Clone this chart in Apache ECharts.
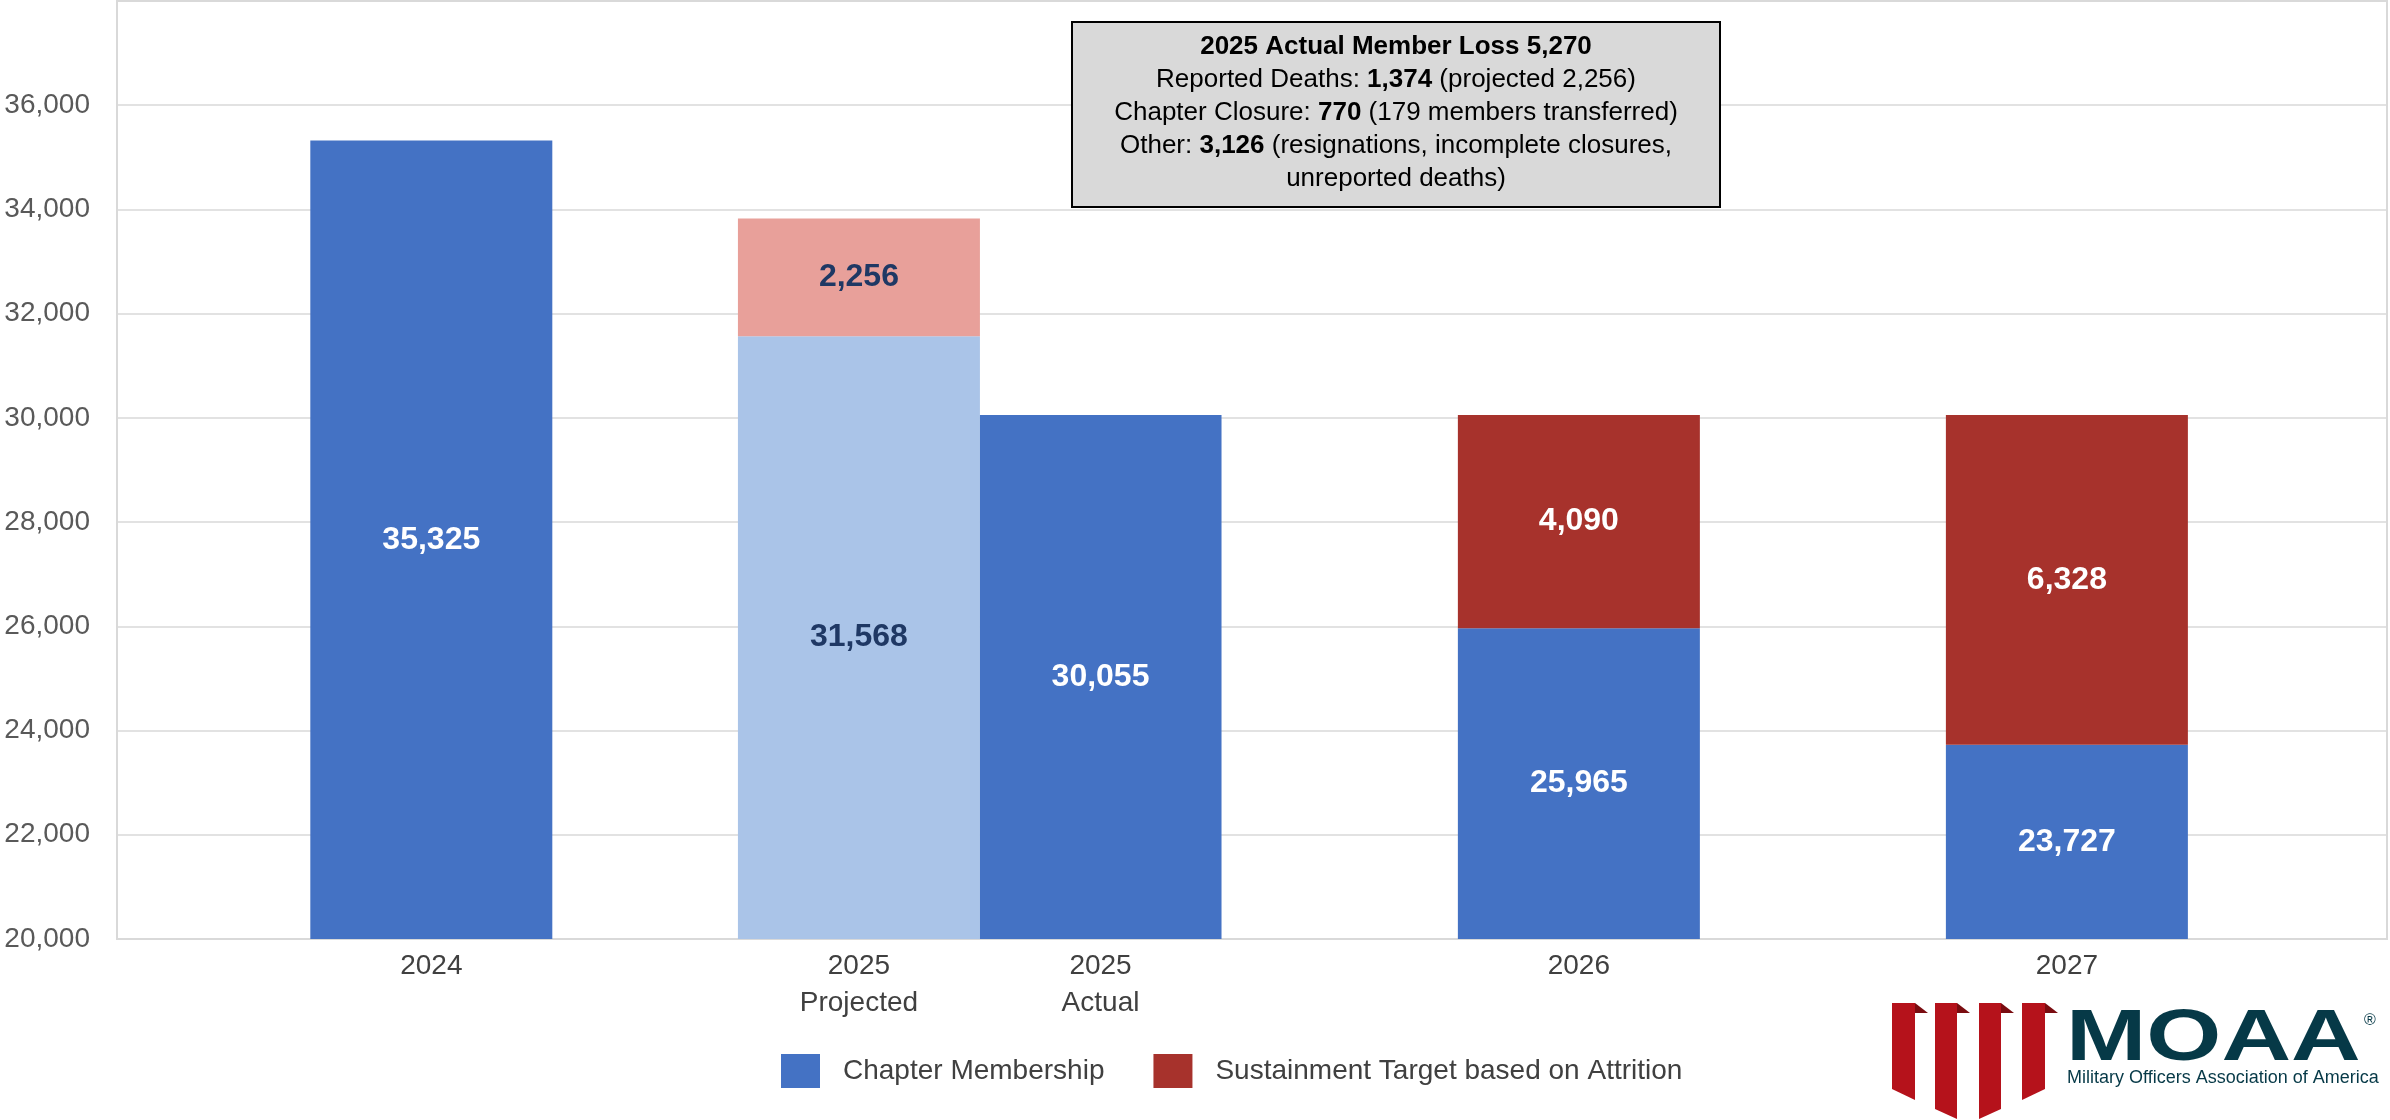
<!DOCTYPE html>
<html><head><meta charset="utf-8">
<script src="https://cdn.jsdelivr.net/npm/echarts@6/dist/echarts.min.js"></script>
<style>html,body{margin:0;padding:0;background:#fff}#chart{width:2390px;height:1120px}</style>
</head><body><div id="chart"></div>
<script>
// ---------- data ----------
const categories = ['2024', '2025\nProjected', '2025\nActual', '2026', '2027'];
const chapterMembership   = [35325, null, 30055, 25965, 23727];
const projectedMembership = [null, 31568, null, null, null];
const projectedDeaths     = [null, 2256, null, null, null];
const sustainmentTarget   = [null, null, null, 4090, 6328];
const yMin = 20000, yMax = 38000, yStep = 2000;
const legendNames = ['Chapter Membership', 'Sustainment Target based on Attrition'];

// ---------- layout (category slots on the x scale, in bar-width units) ----------
const slots = [1.23, 3, 4, 5.98, 8];
const xMin = -0.071, xMax = 9.325;

const FONT = "'Liberation Sans', Arial, sans-serif";
const fmt = v => Number(v).toLocaleString('en-US');
// value first so that the stack is computed on the y dimension
const pairs = arr => arr.map((v, i) => [v == null ? '-' : v, slots[i]]);

function barSeries(name, arr, color, labelColor) {
  return {
    name, type: 'bar', stack: 'total', barWidth: 242,
    encode: { x: 1, y: 0 },
    data: pairs(arr),
    itemStyle: { color },
    label: { show: true, position: 'inside', fontSize: 32, fontWeight: 'bold', fontFamily: FONT,
             color: labelColor, formatter: p => fmt(p.value[0]) },
    emphasis: { disabled: true }
  };
}

const chart = echarts.init(document.getElementById('chart'), null, { renderer: 'canvas' });

const ribbon = (l, r, bl, br) => ({
  type: 'polygon', shape: { points: [[l, 1003], [r, 1003], [r, br], [l, bl]] },
  style: { fill: '#b5121b' }, silent: true
});
const fold = r => ({
  type: 'polygon', shape: { points: [[r, 1003], [r + 13, 1013], [r, 1013]] },
  style: { fill: '#7a0c10' }, silent: true
});

chart.setOption({
  animation: false,
  backgroundColor: '#ffffff',
  textStyle: { fontFamily: FONT },
  title: {
    text: [
      '{b|2025 Actual Member Loss 5,270}',
      '{n|Reported Deaths: }{b|1,374}{n| (projected 2,256)}',
      '{n|Chapter Closure: }{b|770}{n| (179 members transferred)}',
      '{n|Other: }{b|3,126}{n| (resignations, incomplete closures,}',
      '{n|unreported deaths)}'
    ].join('\n'),
    left: 1396 - 42, top: 18, textAlign: 'center',
    padding: [12, 42, 16, 42],
    backgroundColor: '#d9d9d9', borderColor: '#000000', borderWidth: 2,
    textStyle: {
      fontWeight: 'normal',
      rich: {
        b: { fontSize: 26, fontWeight: 'bold', fontFamily: FONT, color: '#000', lineHeight: 33 },
        n: { fontSize: 26, fontWeight: 'normal', fontFamily: FONT, color: '#000', lineHeight: 33 }
      }
    }
  },
  legend: {
    data: legendNames, left: 776, top: 1049, icon: 'rect',
    itemWidth: 39, itemHeight: 34, itemGap: 49, selectedMode: false,
    textStyle: { fontSize: 28, color: '#404040', fontFamily: FONT, padding: [0, 0, 0, 18] }
  },
  grid: { left: 117, right: 3, top: 1, bottom: 181, show: true, borderColor: '#d9d9d9', borderWidth: 2 },
  xAxis: {
    type: 'value', min: xMin, max: xMax,
    axisLine: { show: true, onZero: false, lineStyle: { color: '#d9d9d9', width: 2 } },
    axisTick: { show: false }, splitLine: { show: false },
    axisLabel: {
      customValues: slots,
      formatter: v => { const i = slots.findIndex(s => Math.abs(s - v) < 1e-6); return i >= 0 ? categories[i] : ''; },
      fontSize: 28, lineHeight: 37, color: '#404040', margin: 9, fontFamily: FONT
    }
  },
  yAxis: {
    type: 'value', min: yMin, max: yMax, interval: yStep,
    axisLine: { show: true, onZero: false, lineStyle: { color: '#d9d9d9', width: 2 } },
    axisTick: { show: false },
    splitLine: { lineStyle: { color: '#d9d9d9', width: 1.5 } },
    axisLabel: { formatter: fmt, fontSize: 28, color: '#595959', margin: 27, showMaxLabel: false, fontFamily: FONT }
  },
  series: [
    barSeries('Chapter Membership', chapterMembership, '#4472c4', '#ffffff'),
    barSeries('Projected Membership', projectedMembership, '#aac4e8', '#1f3864'),
    barSeries('Projected Deaths', projectedDeaths, '#e8a09a', '#1f3864'),
    barSeries('Sustainment Target based on Attrition', sustainmentTarget, '#a7322c', '#ffffff')
  ],
  graphic: [
    ribbon(1892, 1915, 1089, 1100), fold(1915),
    ribbon(1935, 1957, 1109, 1119), fold(1957),
    ribbon(1979, 2001, 1119, 1109), fold(2001),
    ribbon(2022, 2045, 1100, 1089), fold(2045),
    { type: 'text', x: 2066, y: 1040, scaleX: 1.34, silent: true,
      style: { text: 'MOAA', x: 0, y: 0, fontSize: 72, fontWeight: 'bold', fontFamily: FONT,
               fill: '#063947', align: 'left', verticalAlign: 'middle' } },
    { type: 'text', x: 2364, y: 1021, silent: true,
      style: { text: '®', fontSize: 16, fontFamily: FONT, fill: '#063947', verticalAlign: 'middle' } },
    { type: 'text', x: 2067, y: 1078, silent: true,
      style: { text: 'Military Officers Association of America', fontSize: 18, fontFamily: FONT,
               fill: '#063947', align: 'left', verticalAlign: 'middle' } }
  ]
});
</script>
</body></html>
